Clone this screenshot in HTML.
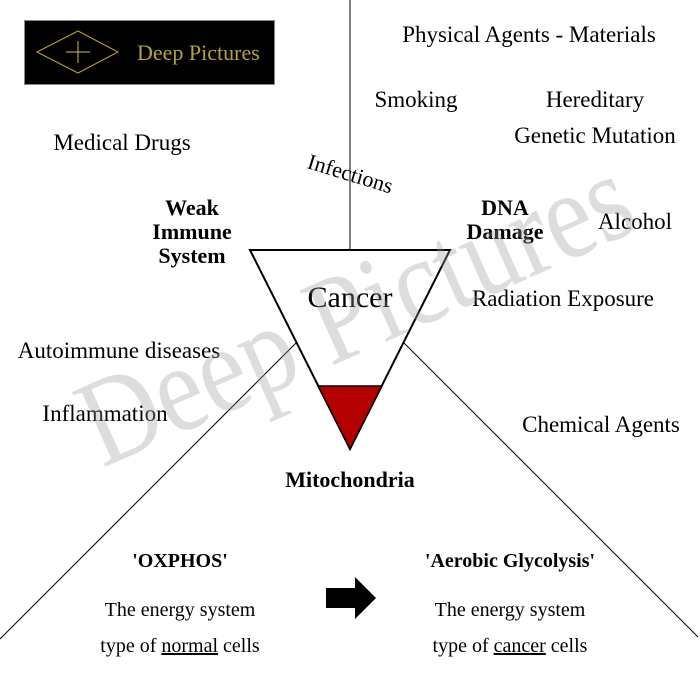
<!DOCTYPE html>
<html><head><meta charset="utf-8"><style>
html,body{margin:0;padding:0;background:#fff;}
svg{display:block;}
text{font-family:"Liberation Serif",serif;fill:#000;}
</style></head><body>
<svg width="700" height="700" viewBox="0 0 700 700" xmlns="http://www.w3.org/2000/svg">
<rect x="0" y="0" width="700" height="700" fill="#fff"/>
<rect x="24.5" y="20.5" width="250" height="64" fill="#000" stroke="#888" stroke-width="1"/>
<polygon points="37,52 78,31 118,52 78,73" fill="none" stroke="#b8a52a" stroke-width="1"/>
<line x1="78" y1="41" x2="78" y2="63" stroke="#d4c040" stroke-width="1"/>
<line x1="66" y1="52" x2="90" y2="52" stroke="#d4c040" stroke-width="1"/>
<text x="137" y="60" font-size="22" style="fill:#b0a43a">Deep Pictures</text>
<line x1="350" y1="0" x2="350" y2="250" stroke="#555" stroke-width="1.5"/>
<line x1="296" y1="343" x2="0" y2="639" stroke="#000" stroke-width="1"/>
<line x1="404" y1="343" x2="698" y2="637" stroke="#000" stroke-width="1"/>
<polygon points="250,250 450,250 350,449" fill="#fff" stroke="#000" stroke-width="2"/>
<polygon points="318,386 382,386 350,449" fill="#b30000" stroke="#000" stroke-width="1.5"/>
<text x="350" y="307" font-size="30" text-anchor="middle">Cancer</text>
<text x="529" y="42" font-size="23" text-anchor="middle">Physical Agents - Materials</text>
<text x="416" y="107" font-size="23" text-anchor="middle">Smoking</text>
<text x="595" y="107" font-size="23" text-anchor="middle">Hereditary</text>
<text x="595" y="143" font-size="23" text-anchor="middle">Genetic Mutation</text>
<text x="122" y="150" font-size="23" text-anchor="middle">Medical Drugs</text>
<text x="350" y="181" font-size="22" text-anchor="middle" transform="rotate(17 350 175)">Infections</text>
<text x="192" y="215" font-size="22" font-weight="bold" text-anchor="middle">Weak</text>
<text x="192" y="239" font-size="22" font-weight="bold" text-anchor="middle">Immune</text>
<text x="192" y="263" font-size="22" font-weight="bold" text-anchor="middle">System</text>
<text x="505" y="215" font-size="22" font-weight="bold" text-anchor="middle">DNA</text>
<text x="505" y="239" font-size="22" font-weight="bold" text-anchor="middle">Damage</text>
<text x="635" y="229" font-size="23" text-anchor="middle">Alcohol</text>
<text x="563" y="306" font-size="23" text-anchor="middle">Radiation Exposure</text>
<text x="119" y="358" font-size="23" text-anchor="middle">Autoimmune diseases</text>
<text x="105" y="421" font-size="23" text-anchor="middle">Inflammation</text>
<text x="601" y="432" font-size="23" text-anchor="middle">Chemical Agents</text>
<text x="350" y="487" font-size="22" font-weight="bold" text-anchor="middle">Mitochondria</text>
<text x="180" y="567" font-size="20" font-weight="bold" text-anchor="middle">'OXPHOS'</text>
<text x="510" y="567" font-size="20" font-weight="bold" text-anchor="middle">'Aerobic Glycolysis'</text>
<text x="180" y="616" font-size="20" text-anchor="middle">The energy system</text>
<text x="180" y="652" font-size="20" text-anchor="middle">type of <tspan text-decoration="underline">normal</tspan> cells</text>
<text x="510" y="616" font-size="20" text-anchor="middle">The energy system</text>
<text x="510" y="652" font-size="20" text-anchor="middle">type of <tspan text-decoration="underline">cancer</tspan> cells</text>
<polygon points="326,588 355,588 355,577 376,598 355,619 355,608 326,608" fill="#000"/>
<text x="372" y="348" font-size="125" text-anchor="middle" textLength="590" lengthAdjust="spacingAndGlyphs" transform="rotate(-24 372 348)" style="fill:#999;fill-opacity:0.33">Deep Pictures</text>
</svg>
</body></html>
